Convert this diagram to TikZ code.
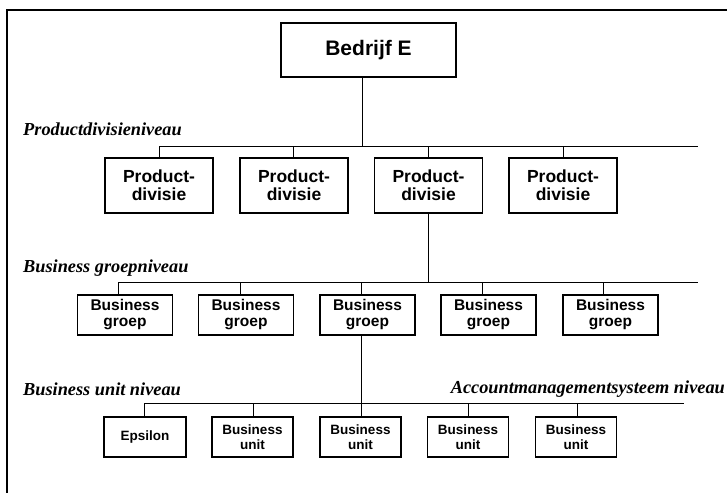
\documentclass[tikz,border=0pt]{standalone}
\usepackage{fontspec}
\setmainfont{Liberation Serif}
\setsansfont{Liberation Sans}
\begin{document}
\begin{tikzpicture}[x=1pt,y=-1pt,
  box/.style={draw,line width=1.1pt,inner sep=0pt,align=center,font=\sffamily\bfseries},
  topbox/.style={box,minimum width=175pt,minimum height=54pt,font=\sffamily\bfseries\fontsize{21}{24}\selectfont},
  pdbox/.style={box,minimum width=108pt,minimum height=55pt,font=\sffamily\bfseries\fontsize{17.5}{18}\selectfont},
  bgbox/.style={box,minimum width=95pt,minimum height=40pt,font=\sffamily\bfseries\fontsize{15.5}{16}\selectfont},
  bubox/.style={box,minimum width=81pt,minimum height=40pt,font=\sffamily\bfseries\fontsize{13.5}{15}\selectfont},
  level/.style={inner sep=0pt,font=\rmfamily\bfseries\itshape\fontsize{18.3}{20}\selectfont},
  link/.style={line width=0.9pt},
  frameline/.style={line width=1.3pt}]
\useasboundingbox (0,0) rectangle (727,493);

% outer frame (top and left edges)
\coordinate (fr-tl) at (7,10);
\coordinate (fr-tr) at (727,10);
\coordinate (fr-bl) at (7,493);
\draw[frameline] (fr-tr) -- (fr-tl) -- (fr-bl);

% top level
\node[topbox] (bedrijf) at (368.5,50) {Bedrijf E};

% product division level
\node[level,anchor=base west] (lvl1) at (23,135) {Productdivisieniveau};
\node[pdbox] (pd1) at (159,185.5) {Product-\\divisie};
\node[pdbox] (pd2) at (294,185.5) {Product-\\divisie};
\node[pdbox] (pd3) at (428.5,185.5) {Product-\\divisie};
\node[pdbox] (pd4) at (563,185.5) {Product-\\divisie};

% business group level
\node[level,anchor=base west] (lvl2) at (23,272) {Business groepniveau};
\node[bgbox] (bg1) at (125,315) {Business\\groep};
\node[bgbox] (bg2) at (246,315) {Business\\groep};
\node[bgbox] (bg3) at (367.5,315) {Business\\groep};
\node[bgbox] (bg4) at (488.5,315) {Business\\groep};
\node[bgbox] (bg5) at (610.5,315) {Business\\groep};

% business unit level
\node[level,anchor=base west] (lvl3) at (23,395) {Business unit niveau};
\node[level,anchor=base east] (lvl4) at (725,393) {Accountmanagementsysteem niveau};
\node[bubox,minimum width=82pt] (bu0) at (145,437) {Epsilon};
\node[bubox] (bu1) at (252.5,437) {Business\\unit};
\node[bubox] (bu2) at (360.5,437) {Business\\unit};
\node[bubox] (bu3) at (468,437) {Business\\unit};
\node[bubox] (bu4) at (576,437) {Business\\unit};

% bus 1: Bedrijf E -> product divisions
\coordinate (b1w) at (159,146);
\coordinate (b1e) at (698,146);
\coordinate (b1t) at (362,146);
\coordinate (b1a) at (159,146);
\coordinate (b1b) at (293,146);
\coordinate (b1c) at (428,146);
\coordinate (b1d) at (563,146);
\draw[link] (b1w) -- (b1e);
\draw[link] (bedrijf.south -| b1t) -- (b1t);
\draw[link] (b1a) -- (b1a |- pd1.north);
\draw[link] (b1b) -- (b1b |- pd2.north);
\draw[link] (b1c) -- (b1c |- pd3.north);
\draw[link] (b1d) -- (b1d |- pd4.north);

% bus 2: product division -> business groups
\coordinate (b2w) at (118,282);
\coordinate (b2e) at (698,282);
\coordinate (b2t) at (428,282);
\coordinate (b2a) at (118,282);
\coordinate (b2b) at (240,282);
\coordinate (b2c) at (361,282);
\coordinate (b2d) at (482,282);
\coordinate (b2f) at (603,282);
\draw[link] (b2w) -- (b2e);
\draw[link] (pd3.south -| b2t) -- (b2t);
\draw[link] (b2a) -- (b2a |- bg1.north);
\draw[link] (b2b) -- (b2b |- bg2.north);
\draw[link] (b2c) -- (b2c |- bg3.north);
\draw[link] (b2d) -- (b2d |- bg4.north);
\draw[link] (b2f) -- (b2f |- bg5.north);

% bus 3: business group -> business units
\coordinate (b3w) at (144,403);
\coordinate (b3e) at (684,403);
\coordinate (b3t) at (361,403);
\coordinate (b3a) at (144,403);
\coordinate (b3b) at (253,403);
\coordinate (b3c) at (361,403);
\coordinate (b3d) at (468,403);
\coordinate (b3f) at (577,403);
\draw[link] (b3w) -- (b3e);
\draw[link] (bg3.south -| b3t) -- (b3t);
\draw[link] (b3a) -- (b3a |- bu0.north);
\draw[link] (b3b) -- (b3b |- bu1.north);
\draw[link] (b3c) -- (b3c |- bu2.north);
\draw[link] (b3d) -- (b3d |- bu3.north);
\draw[link] (b3f) -- (b3f |- bu4.north);
\end{tikzpicture}
\end{document}
